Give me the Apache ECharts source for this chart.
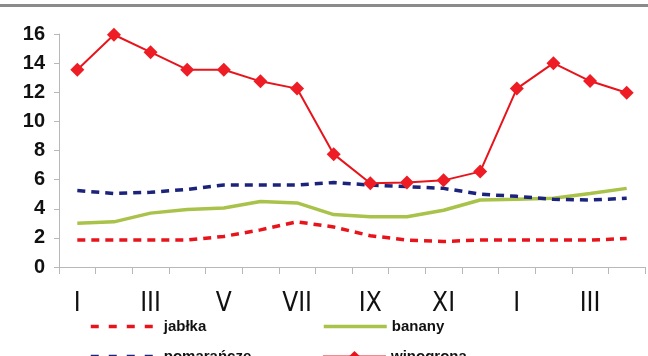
<!DOCTYPE html>
<html><head><meta charset="utf-8">
<script src="https://cdn.jsdelivr.net/npm/echarts@6/dist/echarts.min.js"></script>
<style>html,body{margin:0;padding:0;background:#fff}#c{width:648px;height:356px}</style>
</head><body><div id="c"></div>
<script>
var months = ['I','II','III','IV','V','VI','VII','VIII','IX','X','XI','XII','I','II','III','IV'];
var jablka = [1.85,1.85,1.85,1.85,2.1,2.55,3.1,2.75,2.15,1.85,1.75,1.85,1.85,1.85,1.85,1.95];
var banany = [3.0,3.1,3.7,3.95,4.05,4.5,4.4,3.6,3.45,3.45,3.9,4.6,4.65,4.72,5.05,5.4];
var pomarancze = [5.25,5.05,5.13,5.33,5.63,5.63,5.63,5.8,5.63,5.52,5.4,5.0,4.85,4.65,4.6,4.72];
var winogrona = [13.55,15.95,14.75,13.55,13.55,12.75,12.25,7.75,5.75,5.8,5.95,6.55,12.25,14.0,12.77,11.97];
var names = ['jabłka','banany','pomarańcze','winogrona'];

var chart = echarts.init(document.getElementById('c'), null, {renderer:'canvas'});
var legTxt = {fontFamily:'Liberation Sans', fontWeight:'bold', fontSize:15, color:'#111'};
function leg(name, left, top, w, color, lw, type, hideSym){
  return {data:[name], left:left, top:top, padding:0, itemWidth:w, itemHeight:14, textStyle:legTxt, selectedMode:false,
    lineStyle:{color:color, width:lw, type:type},
    itemStyle:{color:color, opacity: hideSym ? 0 : 1}};
}
chart.setOption({
  animation:false,
  graphic:[{type:'rect', shape:{x:0,y:4,width:648,height:3}, style:{fill:'#8a8a8a'}}],
  grid:{left:59, right:3, top:34, bottom:89},
  legend:[
    leg(names[0],89,319,68,'#e8141c',3.5,[8,10],true),
    leg(names[1],322,319,63,'#a9c24a',3.5,'solid',true),
    leg(names[2],89,349,68,'#1c237a',3.5,[8,10],true),
    leg(names[3],322,349,63,'#e8141c',2,'solid',false)],
  xAxis:{type:'category', data:months, boundaryGap:true,
    axisLine:{lineStyle:{color:'#b8b8b8', width:1}},
    axisTick:{show:true, interval:0, length:7, lineStyle:{color:'#b8b8b8'}},
    axisLabel:{interval:1, margin:24, fontFamily:'DejaVu Sans Condensed, Liberation Sans', fontWeight:'normal', fontSize:26, color:'#111'}},
  yAxis:{type:'value', min:0, max:16, interval:2,
    splitLine:{show:false},
    axisLine:{show:true, lineStyle:{color:'#b8b8b8', width:1}},
    axisTick:{show:true, length:5, lineStyle:{color:'#b8b8b8'}},
    axisLabel:{margin:14, fontFamily:'Liberation Sans', fontWeight:'bold', fontSize:20, color:'#111'}},
  series:[
    {name:names[0], type:'line', data:jablka, symbol:'none', lineStyle:{color:'#e8141c', width:3.5, type:[8,6]}, itemStyle:{color:'#e8141c'}},
    {name:names[1], type:'line', data:banany, symbol:'none', lineStyle:{color:'#a9c24a', width:3.5}, itemStyle:{color:'#a9c24a'}},
    {name:names[2], type:'line', data:pomarancze, symbol:'none', lineStyle:{color:'#1c237a', width:3.5, type:[8,6]}, itemStyle:{color:'#1c237a'}},
    {name:names[3], type:'line', data:winogrona, symbol:'diamond', symbolSize:14, lineStyle:{color:'#e8141c', width:2}, itemStyle:{color:'#ee1c24'}}
  ]
});
</script></body></html>
